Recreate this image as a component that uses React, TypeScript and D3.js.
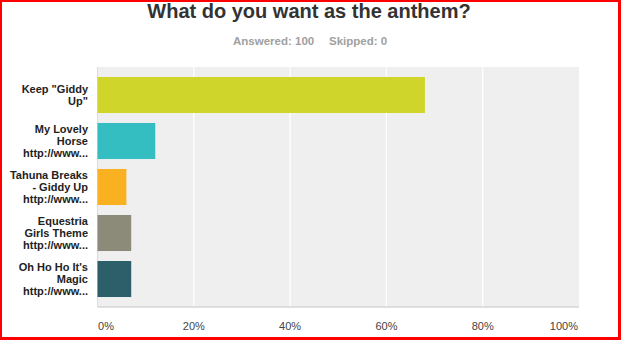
import React from "react";
import * as d3 from "d3";

const categories: string[][] = [
  ['Keep "Giddy', 'Up"'],
  ["My Lovely", "Horse", "http://www..."],
  ["Tahuna Breaks", "- Giddy Up", "http://www..."],
  ["Equestria", "Girls Theme", "http://www..."],
  ["Oh Ho Ho It's", "Magic", "http://www..."],
];
const values: number[] = [68, 12, 6, 7, 7];
const colors: string[] = ["#cfd52a", "#34bec1", "#f9b122", "#8c8b7a", "#2d5f6b"];
const ticks: number[] = [0, 20, 40, 60, 80, 100];

const W = 621;
const H = 340;
const plot = { left: 97.5, right: 579, top: 67, bottom: 307 };

export default function App() {
  const x = d3.scaleLinear().domain([0, 100]).range([plot.left, plot.right]);
  const y = d3
    .scaleBand<number>()
    .domain(d3.range(categories.length))
    .range([plot.top, plot.bottom])
    .paddingInner(0.217)
    .paddingOuter(0.217);
  const font = "Arial, 'Liberation Sans', Helvetica, sans-serif";
  const lh = 11.8;
  return (
    <svg
      width={W}
      height={H}
      style={{ position: "fixed", left: 0, top: 0, background: "#fff" }}
      fontFamily={font}
    >
      <rect x={0} y={0} width={W} height={H} fill="#fff" />
      <text x={309} y={18} textAnchor="middle" fontSize={20} fontWeight="bold" fill="#333">
        What do you want as the anthem?
      </text>
      <text x={233} y={45} fontSize={11.5} fontWeight="bold" fill="#a0a0a0">
        Answered: 100
      </text>
      <text x={329} y={45} fontSize={11.5} fontWeight="bold" fill="#a0a0a0">
        Skipped: 0
      </text>
      <rect
        x={plot.left}
        y={plot.top}
        width={plot.right - plot.left}
        height={plot.bottom - plot.top}
        fill="#efefef"
      />
      {ticks.slice(1, -1).map((t) => (
        <line
          key={t}
          x1={x(t)}
          x2={x(t)}
          y1={plot.top}
          y2={plot.bottom}
          stroke="#fff"
          strokeWidth={1.2}
        />
      ))}
      <line x1={plot.left} x2={plot.left} y1={plot.top} y2={plot.bottom} stroke="#dcdcdc" strokeWidth={1} />
      <line x1={plot.left} x2={plot.right} y1={plot.bottom} y2={plot.bottom} stroke="#d6d6d6" strokeWidth={1.5} />
      {values.map((v, i) => (
        <rect
          key={i}
          x={x(0)}
          y={y(i)}
          width={x(v) - x(0)}
          height={y.bandwidth()}
          fill={colors[i]}
        />
      ))}
      {categories.map((lines, i) => {
        const cy = (y(i) as number) + y.bandwidth() / 2;
        const n = lines.length;
        return (
          <text key={i} textAnchor="end" fontSize={11} fontWeight="bold" fill="#222">
            {lines.map((l, j) => (
              <tspan key={j} x={88} y={cy + (j - (n - 1) / 2) * lh + 4}>
                {l}
              </tspan>
            ))}
          </text>
        );
      })}
      {ticks.map((t, i) => (
        <text
          key={t}
          x={i === 0 ? x(t) + 0.5 : i === ticks.length - 1 ? x(t) - 1 : x(t)}
          y={330}
          fontSize={11}
          fill="#444"
          textAnchor={i === 0 ? "start" : i === ticks.length - 1 ? "end" : "middle"}
        >
          {t}%
        </text>
      ))}
      <rect x={0} y={0} width={W} height={2} fill="#ff0000" />
      <rect x={0} y={0} width={2} height={H} fill="#ff0000" />
      <rect x={618} y={0} width={3} height={H} fill="#ff0000" />
      <rect x={0} y={337} width={W} height={3} fill="#ff0000" />
    </svg>
  );
}
